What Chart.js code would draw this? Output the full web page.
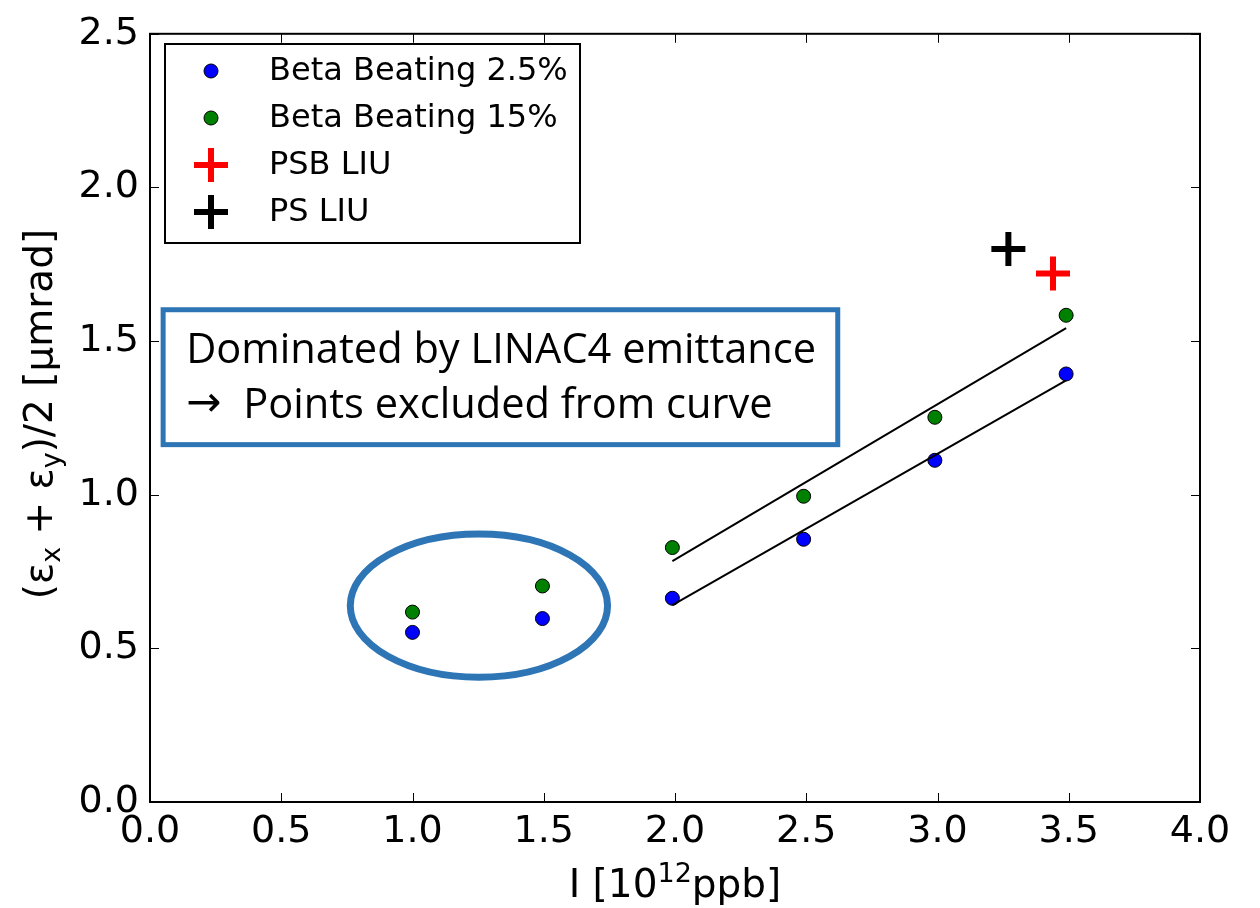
<!DOCTYPE html>
<html>
<head>
<meta charset="utf-8">
<title>Emittance vs intensity</title>
<script src="https://cdn.jsdelivr.net/npm/chart.js@4"></script>
<style>
  html, body { margin: 0; padding: 0; background: #fff; }
  #wrap { width: 1260px; height: 908px; }
</style>
</head>
<body>
<div id="wrap"><canvas id="emitChart" width="1260" height="908"></canvas></div>
<script>
// measured points, intensity in 1e12 ppb
const intensity = [1.0, 1.495, 1.99, 2.49, 2.99, 3.49];
const emitBeat25 = [0.552, 0.597, 0.663, 0.855, 1.112, 1.393];
const emitBeat15 = [0.618, 0.703, 0.828, 0.995, 1.252, 1.584];

// linear fits over the points above 2e12
const fitRange = [1.99, 3.49];
const fitBeat25 = [0.641, 1.372];
const fitBeat15 = [0.784, 1.542];

// target values
const psbLiu = [3.44, 1.72];
const psLiu = [3.27, 1.80];

const xTicks = [0.0, 0.5, 1.0, 1.5, 2.0, 2.5, 3.0, 3.5, 4.0];
const yTicks = [0.0, 0.5, 1.0, 1.5, 2.0, 2.5];

const FONT = "'DejaVu Sans', sans-serif";
const NOTE_FONT = "'Open Sans', sans-serif";
const NOTE_BLUE = '#2E75B6';

const pts = (xs, ys) => xs.map((x, i) => ({ x: x, y: ys[i] }));

// draw a run of [text, size, dy] pieces starting at x, returns total width
function richWidth(ctx, parts) {
    let w = 0;
    parts.forEach(p => { ctx.font = p[1] + 'px ' + FONT; w += ctx.measureText(p[0]).width; });
    return w;
}
function drawRich(ctx, parts, x, y) {
    parts.forEach(p => {
        ctx.font = p[1] + 'px ' + FONT;
        ctx.fillText(p[0], x, y + p[2]);
        x += ctx.measureText(p[0]).width;
    });
}

// frame, inward ticks, legend, notes and axis titles
const decorations = {
    id: 'decorations',
    afterDraw(chart) {
        const ctx = chart.ctx;
        const area = chart.chartArea;
        const xs = chart.scales.x;
        const ys = chart.scales.y;
        ctx.save();

        // inward ticks on all four sides
        ctx.strokeStyle = '#000';
        ctx.lineWidth = 1;
        ctx.beginPath();
        xTicks.forEach(v => {
            const px = Math.round(xs.getPixelForValue(v)) + 0.5;
            ctx.moveTo(px, area.bottom); ctx.lineTo(px, area.bottom - 9);
            ctx.moveTo(px, area.top); ctx.lineTo(px, area.top + 9);
        });
        yTicks.forEach(v => {
            const py = Math.round(ys.getPixelForValue(v)) + 0.5;
            ctx.moveTo(area.left, py); ctx.lineTo(area.left + 9, py);
            ctx.moveTo(area.right, py); ctx.lineTo(area.right - 9, py);
        });
        ctx.stroke();

        ctx.lineWidth = 2;
        ctx.strokeRect(area.left, area.top, area.right - area.left, area.bottom - area.top);

        // legend box
        const lx = 165, ly = 44, lw = 415, lh = 199;
        ctx.fillStyle = '#fff';
        ctx.fillRect(lx, ly, lw, lh);
        ctx.lineWidth = 2;
        ctx.strokeStyle = '#000';
        ctx.strokeRect(lx, ly, lw, lh);
        const rows = [71, 118, 165, 212];
        chart.data.datasets.filter(d => d.label).forEach((d, i) => {
            const cx = 211, cy = rows[i];
            if (d.pointStyle === 'cross') {
                ctx.strokeStyle = d.borderColor;
                ctx.lineWidth = d.borderWidth;
                ctx.beginPath();
                ctx.moveTo(cx - 17, cy); ctx.lineTo(cx + 17, cy);
                ctx.moveTo(cx, cy - 17); ctx.lineTo(cx, cy + 17);
                ctx.stroke();
            } else {
                ctx.fillStyle = d.backgroundColor;
                ctx.strokeStyle = '#000';
                ctx.lineWidth = 1;
                ctx.beginPath();
                ctx.arc(cx, cy, 7, 0, Math.PI * 2);
                ctx.fill(); ctx.stroke();
            }
            ctx.fillStyle = '#000';
            ctx.font = '32px ' + FONT;
            ctx.textAlign = 'left';
            ctx.textBaseline = 'middle';
            ctx.fillText(d.label, 269, cy + 1);
        });

        // note box about the low-intensity points
        const bx0 = xs.getPixelForValue(0.05), bx1 = xs.getPixelForValue(2.62);
        const by0 = ys.getPixelForValue(1.602), by1 = ys.getPixelForValue(1.163);
        ctx.fillStyle = '#fff';
        ctx.fillRect(bx0, by0, bx1 - bx0, by1 - by0);
        ctx.strokeStyle = NOTE_BLUE;
        ctx.lineWidth = 5;
        ctx.strokeRect(bx0, by0, bx1 - bx0, by1 - by0);

        ctx.fillStyle = '#000';
        ctx.textAlign = 'left';
        ctx.textBaseline = 'alphabetic';
        ctx.font = '42px ' + NOTE_FONT;
        const line1 = 'Dominated by LINAC4 emittance';
        const line2 = 'Points excluded from curve';
        const sx = 630 / ctx.measureText(line1).width;
        [[line1, bx0 + 23, 363], [line2, bx0 + 80, 418]].forEach(([t, x0, base]) => {
            ctx.save();
            ctx.translate(x0, base);
            ctx.scale(sx, 1);
            ctx.fillText(t, 0, 0);
            ctx.restore();
        });
        ctx.font = '42px ' + FONT;
        ctx.fillText('\u2192', bx0 + 23, 416);

        // ellipse around the excluded points
        const ex = xs.getPixelForValue(1.253), ey = ys.getPixelForValue(0.639);
        const rx = xs.getPixelForValue(1.253 + 0.49) - ex;
        const ry = ey - ys.getPixelForValue(0.639 + 0.233);
        ctx.strokeStyle = NOTE_BLUE;
        ctx.lineWidth = 7;
        ctx.beginPath();
        ctx.ellipse(ex, ey, rx, ry, 0, 0, Math.PI * 2);
        ctx.stroke();

        // x axis title with superscript
        ctx.fillStyle = '#000';
        ctx.textBaseline = 'alphabetic';
        const xParts = [['I [10', 39, 0], ['12', 27, -15], ['ppb]', 39, 0]];
        drawRich(ctx, xParts, (area.left + area.right) / 2 - richWidth(ctx, xParts) / 2, 897);

        // y axis title with subscripts, rotated
        const yParts = [['(\u03b5', 39, 0], ['x', 27, 8], [' + \u03b5', 39, 0], ['y', 27, 8], [')/2 [\u03bcmrad]', 39, 0]];
        ctx.save();
        ctx.translate(52, 414);
        ctx.rotate(-Math.PI / 2);
        drawRich(ctx, yParts, -richWidth(ctx, yParts) / 2, 0);
        ctx.restore();

        ctx.restore();
    }
};

new Chart(document.getElementById('emitChart'), {
    type: 'scatter',
    data: {
        datasets: [
            {
                label: 'Beta Beating 2.5%',
                data: pts(intensity, emitBeat25),
                backgroundColor: '#0000ff',
                borderColor: '#000',
                borderWidth: 1,
                pointRadius: 7,
                order: 3
            },
            {
                label: 'Beta Beating 15%',
                data: pts(intensity, emitBeat15),
                backgroundColor: '#008000',
                borderColor: '#000',
                borderWidth: 1,
                pointRadius: 7,
                order: 3
            },
            {
                label: 'PSB LIU',
                data: [{ x: psbLiu[0], y: psbLiu[1] }],
                pointStyle: 'cross',
                borderColor: '#ff0000',
                backgroundColor: '#ff0000',
                borderWidth: 6,
                pointRadius: 17,
                order: 3
            },
            {
                label: 'PS LIU',
                data: [{ x: psLiu[0], y: psLiu[1] }],
                pointStyle: 'cross',
                borderColor: '#000',
                backgroundColor: '#000',
                borderWidth: 6,
                pointRadius: 17,
                order: 3
            },
            {
                data: pts(fitRange, fitBeat25),
                showLine: true,
                borderColor: '#000',
                borderWidth: 2,
                pointRadius: 0,
                order: 1
            },
            {
                data: pts(fitRange, fitBeat15),
                showLine: true,
                borderColor: '#000',
                borderWidth: 2,
                pointRadius: 0,
                order: 1
            }
        ]
    },
    options: {
        responsive: false,
        animation: false,
        layout: { padding: { left: 0, right: 60, top: 28, bottom: 0 } },
        plugins: {
            legend: { display: false },
            tooltip: { enabled: false }
        },
        scales: {
            x: {
                type: 'linear',
                min: 0,
                max: 4,
                afterFit: s => { s.height = 106; },
                afterBuildTicks: s => { s.ticks = xTicks.map(v => ({ value: v })); },
                grid: { display: false, drawTicks: false },
                border: { display: false },
                ticks: {
                    padding: 7,
                    color: '#000',
                    font: { family: FONT, size: 38 },
                    callback: v => v.toFixed(1)
                }
            },
            y: {
                type: 'linear',
                min: 0,
                max: 2.5,
                afterFit: s => { s.width = 150; },
                afterBuildTicks: s => { s.ticks = yTicks.map(v => ({ value: v })); },
                grid: { display: false, drawTicks: false },
                border: { display: false },
                ticks: {
                    padding: 11,
                    color: '#000',
                    font: { family: FONT, size: 38 },
                    callback: v => v.toFixed(1)
                }
            }
        }
    },
    plugins: [decorations]
});
</script>
</body>
</html>
